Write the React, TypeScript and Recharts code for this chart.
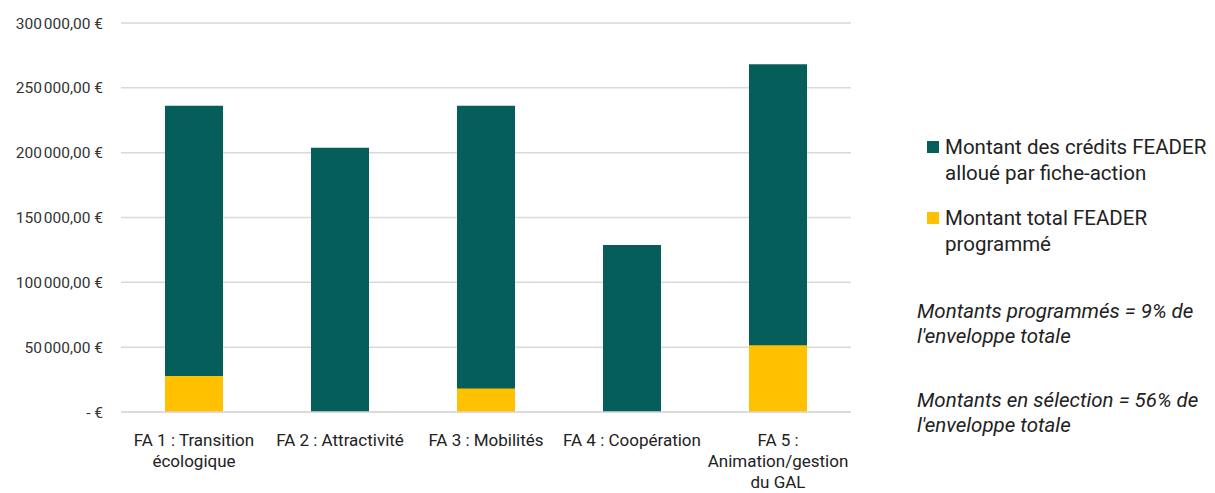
import { BarChart, Bar, XAxis, YAxis, CartesianGrid, Text } from "recharts";

const categories = [
  "FA 1 : Transition écologique",
  "FA 2 : Attractivité",
  "FA 3 : Mobilités",
  "FA 4 : Coopération",
  "FA 5 : Animation/gestion du GAL",
];
const allocated = [236200, 203800, 236200, 128700, 268200];
const programmed = [27700, 0, 18200, 0, 51500];
const yTicks = [0, 50000, 100000, 150000, 200000, 250000, 300000];

const GREEN = "#065e5a";
const GOLD = "#ffc000";
const FONT = "Roboto, 'Noto Sans', sans-serif";

const data = categories.map((name, i) => ({
  name,
  allocated: allocated[i],
  programmed: programmed[i],
}));

const formatEuro = (v: number) => {
  if (v === 0) return "-  €";
  const whole = Math.round(v)
    .toString()
    .replace(/\B(?=(\d{3})+(?!\d))/g, "\u202f");
  return `${whole},00 €`;
};

const CategoryTick = ({ x, y, payload }: any) => (
  <Text
    x={x}
    y={y + 14}
    width={140}
    textAnchor="middle"
    verticalAnchor="start"
    lineHeight={21}
    style={{ fontSize: 17, fill: "#222", fontFamily: FONT }}
  >
    {payload.value}
  </Text>
);

export default function App() {
  return (
    <div
      style={{
        position: "absolute",
        left: 0,
        top: 0,
        width: 1215,
        height: 493,
        background: "#fff",
        fontFamily: FONT,
      }}
    >
      <BarChart
        width={1215}
        height={493}
        data={data}
        margin={{ top: 23, right: 364, left: 0, bottom: 0 }}
      >
        <CartesianGrid vertical={false} stroke="#d9d9d9" strokeWidth={1.5} />
        <XAxis
          xAxisId="a"
          dataKey="name"
          height={81}
          tick={<CategoryTick />}
          tickLine={false}
          axisLine={{ stroke: "#d9d9d9", strokeWidth: 1.5 }}
          interval={0}
        />
        <XAxis xAxisId="b" dataKey="name" hide />
        <YAxis
          width={121}
          domain={[0, 300000]}
          ticks={yTicks}
          tickFormatter={formatEuro}
          tickLine={false}
          axisLine={false}
          tickMargin={12}
          tick={{ fontSize: 15.5, fill: "#333", fontFamily: FONT }}
        />
        <Bar
          xAxisId="a"
          dataKey="allocated"
          name="Montant des crédits FEADER alloué par fiche-action"
          fill={GREEN}
          barSize={58}
          isAnimationActive={false}
        />
        <Bar
          xAxisId="b"
          dataKey="programmed"
          name="Montant total FEADER programmé"
          fill={GOLD}
          barSize={58}
          isAnimationActive={false}
        />
      </BarChart>

      <div
        style={{
          position: "absolute",
          left: 927,
          top: 134,
          color: "#222",
          fontSize: 20.5,
          lineHeight: "26px",
        }}
      >
        <div style={{ display: "flex", alignItems: "flex-start" }}>
          <span
            style={{
              width: 12,
              height: 12,
              background: GREEN,
              marginTop: 7,
              marginRight: 6,
              flexShrink: 0,
            }}
          />
          <span>
            Montant des crédits FEADER
            <br />
            alloué par fiche-action
          </span>
        </div>
        <div style={{ display: "flex", alignItems: "flex-start", marginTop: 19 }}>
          <span
            style={{
              width: 12,
              height: 12,
              background: GOLD,
              marginTop: 7,
              marginRight: 6,
              flexShrink: 0,
            }}
          />
          <span>
            Montant total FEADER
            <br />
            programmé
          </span>
        </div>
      </div>

      <div
        style={{
          position: "absolute",
          left: 917,
          top: 299,
          color: "#222",
          fontSize: 20.5,
          lineHeight: "25px",
          fontStyle: "italic",
        }}
      >
        <div>
          Montants programmés = 9% de
          <br />
          l'enveloppe totale
        </div>
        <div style={{ marginTop: 39 }}>
          Montants en sélection = 56% de
          <br />
          l'enveloppe totale
        </div>
      </div>
    </div>
  );
}
